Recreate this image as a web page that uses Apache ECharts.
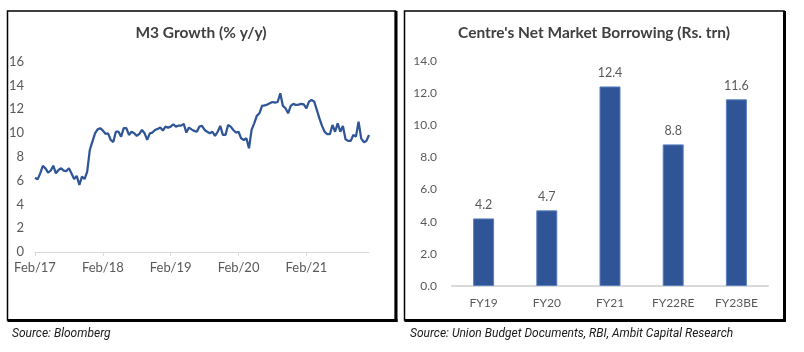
<!DOCTYPE html>
<html>
<head>
<meta charset="utf-8">
<script src="https://cdn.jsdelivr.net/npm/echarts@6/dist/echarts.min.js"></script>
<style>
  html, body { margin: 0; padding: 0; background: #fff; }
  #chart { width: 804px; height: 352px; }
</style>
</head>
<body>
<div id="chart"></div>
<script>
// M3 growth, % y/y, fortnightly from Feb/17
var m3Values = [
    6.24, 6.1, 6.6, 7.23, 7.03, 6.67, 6.83, 7.25, 6.6, 6.89,
    7.03, 6.83, 6.8, 7.03, 6.6, 6.13, 6.39, 5.63, 6.33, 6.13,
    6.75, 8.57, 9.27, 9.97, 10.3, 10.4, 10.2, 9.92, 9.97, 9.41,
    9.24, 10.1, 10.1, 9.69, 10.4, 10.4, 9.83, 10.1, 9.97, 9.75,
    9.92, 10.25, 9.97, 9.41, 9.97, 10.03, 10.25, 10.34, 10.45, 10.2,
    10.53, 10.45, 10.53, 10.73, 10.53, 10.61, 10.61, 10.76, 10.03, 10.45,
    10.3, 10.17, 10.1, 10.53, 10.6, 10.25, 10.1, 9.97, 10.1, 9.75,
    10.1, 10.59, 9.83, 9.83, 10.67, 10.53, 10.25, 10.03, 10.1, 9.55,
    9.41, 9.55, 8.71, 10.25, 10.81, 11.43, 11.65, 12.27, 12.32, 12.38,
    12.49, 12.6, 12.55, 12.6, 13.33, 12.27, 12.07, 11.65, 12.27, 12.44,
    12.35, 12.38, 12.44, 12.4, 12.07, 12.63, 12.77, 12.63, 11.93, 11.23,
    10.59, 10.1, 9.89, 9.89, 10.67, 10.1, 10.81, 10.1, 10.59, 9.47,
    9.33, 9.33, 9.83, 9.69, 10.95, 9.55, 9.22, 9.33, 9.83
];
var m3YearLabels = ['Feb/17', 'Feb/18', 'Feb/19', 'Feb/20', 'Feb/21'];
var m3PointsPerYear = 26;

// Centre's net market borrowing, Rs. trn
var borrowCategories = ['FY19', 'FY20', 'FY21', 'FY22RE', 'FY23BE'];
var borrowValues = [4.2, 4.7, 12.4, 8.8, 11.6];

var chart = echarts.init(document.getElementById('chart'));

var labelFont = 'Lato, "Open Sans", sans-serif';
var greyText = '#595959';

var m3Index = m3Values.map(function(v, i) { return i; });

function panelFrame(x0, y0, x1, y1) {
    return [
        { type: 'rect', shape: { x: x0, y: y0, width: x1 - x0, height: y1 - y0 },
          style: { fill: 'none', stroke: '#000', lineWidth: 1.5 }, silent: true },
        { type: 'line', shape: { x1: x1 + 0.5, y1: y0, x2: x1 + 0.5, y2: y1 + 2 },
          style: { stroke: '#000', lineWidth: 3 }, silent: true },
        { type: 'line', shape: { x1: x0, y1: y1 + 0.5, x2: x1 + 2, y2: y1 + 0.5 },
          style: { stroke: '#000', lineWidth: 3 }, silent: true }
    ];
}

function textEl(x, y, text, font, color, align) {
    return {
        type: 'text', x: x, y: y, silent: true,
        style: {
            text: text, font: font, fill: color,
            textAlign: align, align: align,
            textVerticalAlign: 'middle', verticalAlign: 'middle'
        }
    };
}

var graphics = []
    .concat(panelFrame(7.5, 11, 395.5, 320))
    .concat(panelFrame(404.5, 11, 784, 320))
    .concat([
        textEl(201, 33, 'M3 Growth (% y/y)', 'bold 15.5px ' + labelFont, '#404040', 'center'),
        textEl(594, 33, "Centre's Net Market Borrowing (Rs. trn)", 'bold 15.5px ' + labelFont, '#404040', 'center'),
        textEl(12, 334, 'Source: Bloomberg', 'italic 12px Roboto, sans-serif', '#1a1a1a', 'left'),
        textEl(410, 334, 'Source: Union Budget Documents, RBI, Ambit Capital Research', 'italic 12px Roboto, sans-serif', '#1a1a1a', 'left')
    ]);

var option = {
    animation: false,
    backgroundColor: '#fff',
    textStyle: { fontFamily: labelFont },
    graphic: graphics,
    grid: [
        { left: 35, right: 435, top: 61.5, bottom: 100 },
        { left: 452, right: 36, top: 60.7, bottom: 66 }
    ],
    xAxis: [{
        gridIndex: 0,
        type: 'category',
        data: m3Index,
        boundaryGap: false,
        axisLine: { lineStyle: { color: '#d9d9d9', width: 1 } },
        axisTick: {
            length: 4,
            lineStyle: { color: '#d9d9d9' },
            interval: function(idx) { return idx % m3PointsPerYear === 0; }
        },
        axisLabel: {
            color: greyText, fontSize: 13, margin: 9,
            interval: function(idx) { return idx % m3PointsPerYear === 0; },
            formatter: function(v, idx) { return m3YearLabels[idx / m3PointsPerYear] || ''; }
        }
    }, {
        gridIndex: 1,
        type: 'category',
        data: borrowCategories,
        axisLine: { lineStyle: { color: '#d9d9d9', width: 2 } },
        axisTick: { show: false },
        axisLabel: { color: greyText, fontSize: 12, margin: 11 }
    }],
    yAxis: [{
        gridIndex: 0,
        type: 'value',
        min: 0, max: 16, interval: 2,
        axisLine: { show: false },
        axisTick: { show: false },
        splitLine: { show: false },
        axisLabel: { color: greyText, fontSize: 13, margin: 11 }
    }, {
        gridIndex: 1,
        type: 'value',
        min: 0, max: 14, interval: 2,
        axisLine: { show: false },
        axisTick: { show: false },
        splitLine: { show: false },
        axisLabel: {
            color: greyText, fontSize: 12, margin: 15,
            formatter: function(v) { return v.toFixed(1); }
        }
    }],
    series: [{
        type: 'line',
        xAxisIndex: 0, yAxisIndex: 0,
        data: m3Values,
        symbol: 'none',
        lineStyle: { color: '#2f5597', width: 2.25 },
        itemStyle: { color: '#2f5597' }
    }, {
        type: 'bar',
        xAxisIndex: 1, yAxisIndex: 1,
        data: borrowValues,
        barWidth: 21,
        itemStyle: { color: '#2f5597', borderColor: '#5b80c2', borderWidth: 1 },
        label: {
            show: true, position: 'top', distance: 7,
            color: greyText, fontSize: 12.5,
            formatter: function(p) { return p.value.toFixed(1); }
        }
    }]
};

chart.setOption(option);
</script>
</body>
</html>
